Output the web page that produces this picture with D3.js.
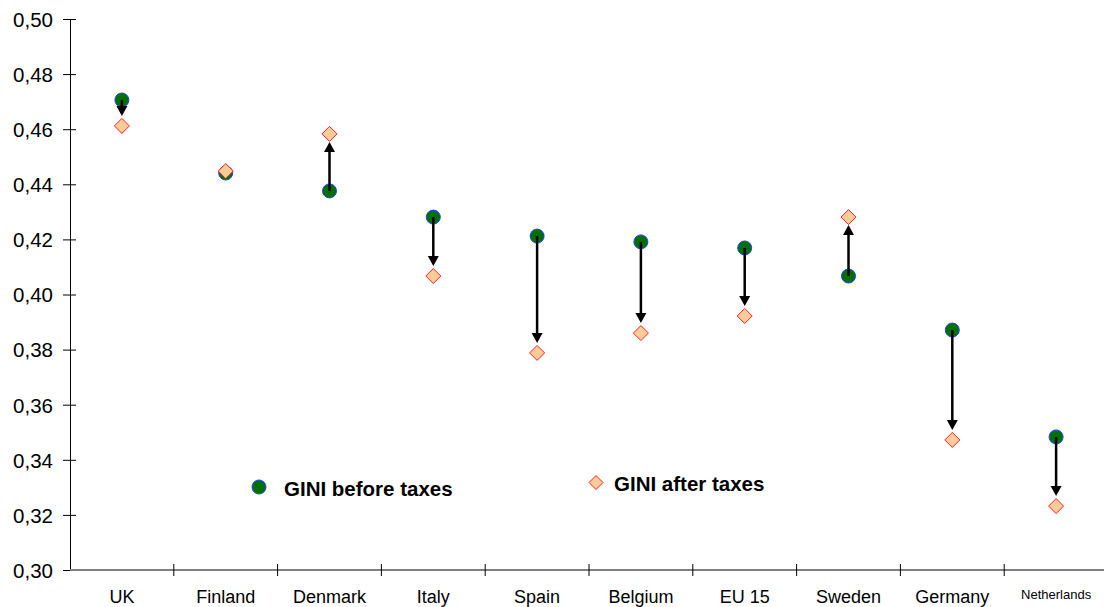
<!DOCTYPE html>
<html><head><meta charset="utf-8">
<script src="https://cdn.jsdelivr.net/npm/d3@7"></script>
<style>
body{margin:0;background:#fff;}
svg{display:block;font-family:"Liberation Sans",Arial,sans-serif;}
</style></head>
<body>
<svg id="chart" width="1104" height="607"></svg>
<script>
const countries = ["UK","Finland","Denmark","Italy","Spain","Belgium","EU 15","Sweden","Germany","Netherlands"];
const giniBefore = [0.4706,0.4441,0.4376,0.4281,0.4212,0.4191,0.4169,0.4067,0.3871,0.3483];
const giniAfter  = [0.4612,0.4448,0.4583,0.4067,0.3788,0.3860,0.3922,0.4281,0.3472,0.3232];
const yTicks = [0.30,0.32,0.34,0.36,0.38,0.40,0.42,0.44,0.46,0.48,0.50];
const legendLabels = ["GINI before taxes","GINI after taxes"];

const svg = d3.select("#chart");
const x = d3.scaleBand().domain(countries).range([70,1108]).padding(0);
const y = d3.scaleLinear().domain([0.30,0.50]).range([570,19]);
const fmt = v => d3.format(".2f")(v).replace(".", ",");

// Y axis
const yAxis = svg.append("g").attr("transform","translate(70,0)")
  .call(d3.axisLeft(y).tickValues(yTicks).tickFormat(fmt).tickSize(7).tickPadding(10));
yAxis.select(".domain").attr("stroke","#000").attr("stroke-width",1);
yAxis.selectAll(".tick line").attr("stroke","#000").attr("x2",-7).attr("x1",6);
yAxis.selectAll(".tick text").attr("font-size",20.5).attr("fill","#000")
  .attr("font-family","'Liberation Sans', Arial, sans-serif").attr("dy","0.36em");

// X axis line
svg.append("line").attr("x1",70).attr("x2",1104).attr("y1",y(0.30)).attr("y2",y(0.30))
  .attr("stroke","#808080").attr("stroke-width",2);
// X ticks at band edges
svg.append("g").selectAll("line").data(countries.slice(1)).join("line")
  .attr("x1",d=>x(d)).attr("x2",d=>x(d))
  .attr("y1",y(0.30)-6).attr("y2",y(0.30)+6)
  .attr("stroke","#000").attr("stroke-width",1);
// X labels
svg.append("g").selectAll("text").data(countries).join("text")
  .attr("x",d=>x(d)+x.bandwidth()/2)
  .attr("y",d=>d==="Netherlands"?599:602.5)
  .attr("text-anchor","middle")
  .attr("font-size",d=>d==="Netherlands"?13:18)
  .attr("fill","#000")
  .text(d=>d);

const data = countries.map((c,i)=>({c, b:giniBefore[i], a:giniAfter[i]}));
const cx = d => x(d.c)+x.bandwidth()/2;
const diamond = (px,py,r) => `M${px},${py-r}L${px+r},${py}L${px},${py+r}L${px-r},${py}Z`;

// circles
svg.append("g").selectAll("circle").data(data).join("circle")
  .attr("cx",cx).attr("cy",d=>y(d.b)).attr("r",7)
  .attr("fill","#007000").attr("stroke","#2040ff").attr("stroke-width",1);
// diamonds
svg.append("g").selectAll("path").data(data).join("path")
  .attr("d",d=>diamond(cx(d),y(d.a),7.5))
  .attr("fill","#ffcc99").attr("stroke","#ff2020").attr("stroke-width",1);
// arrows
const arrows = svg.append("g");
data.filter(d=>Math.abs(d.a-d.b)>0.002).forEach(d=>{
  const px = cx(d), y0 = y(d.b), y1 = y(d.a);
  const dir = y1>y0 ? 1 : -1;
  const tip = y1 - dir*(dir>0?10:8);
  const headLen = 10, headW = 5.5;
  arrows.append("line").attr("x1",px).attr("x2",px).attr("y1",y0).attr("y2",tip-dir*headLen+dir)
    .attr("stroke","#000").attr("stroke-width",2.5);
  arrows.append("path")
    .attr("d",`M${px-headW},${tip-dir*headLen}L${px+headW},${tip-dir*headLen}L${px},${tip}Z`)
    .attr("fill","#000");
});

// legend
const leg = svg.append("g").attr("font-size",20.5).attr("font-weight","bold").attr("fill","#000");
leg.append("circle").attr("cx",259).attr("cy",487).attr("r",7)
  .attr("fill","#007000").attr("stroke","#2040ff").attr("stroke-width",1);
leg.append("text").attr("x",284).attr("y",496).text(legendLabels[0]);
leg.append("path").attr("d",diamond(596,482.5,7)).attr("fill","#ffcc99").attr("stroke","#ff2020").attr("stroke-width",1);
leg.append("text").attr("x",614).attr("y",491).text(legendLabels[1]);
</script>
</body></html>
